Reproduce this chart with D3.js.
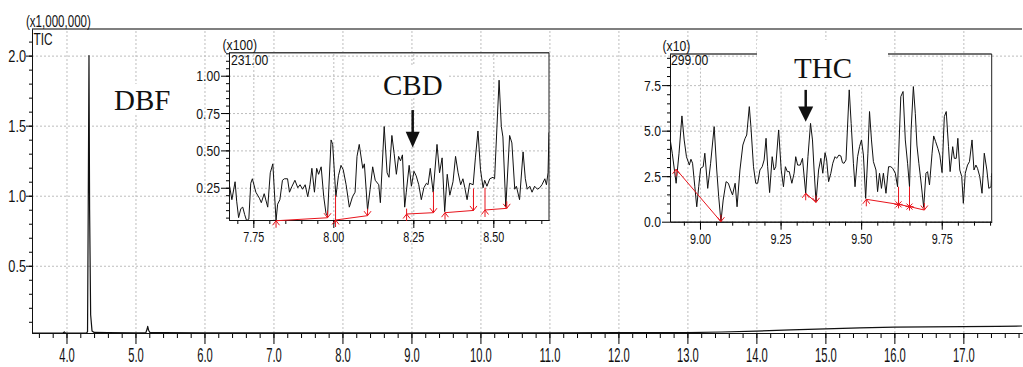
<!DOCTYPE html>
<html><head><meta charset="utf-8">
<script src="https://cdn.jsdelivr.net/npm/d3@7"></script>
<style>
html,body{margin:0;padding:0;background:#fff;}
svg{display:block;}
</style></head><body>
<svg id="chart" width="1023" height="367"></svg>
<script>
// ---------------- DATA ----------------
// Main TIC chromatogram (time in min, intensity x1,000,000)
const ticTimes  = [3.50,3.60,3.80,3.95,3.968,3.985,4.10,4.29,4.305,4.315,4.326,4.335,4.35,4.37,4.40,4.60,5.00,5.15,5.17,5.177,5.19,5.21,5.40,6.0,7.0,8.0,9.0,10.0,11.0,12.0,12.5,13.0,13.5,14.0,14.5,15.0,15.5,16.0,16.5,17.0,17.5,17.85];
const ticValues = [0.020,0.019,0.020,0.020,0.028,0.020,0.019,0.019,0.030,0.90,2.00,0.90,0.15,0.035,0.024,0.022,0.021,0.022,0.050,0.068,0.040,0.023,0.022,0.021,0.021,0.021,0.021,0.021,0.021,0.022,0.022,0.023,0.027,0.033,0.042,0.050,0.057,0.062,0.064,0.066,0.068,0.070];
const mainXTicks = [4,5,6,7,8,9,10,11,12,13,14,15,16,17];
const mainYTicks = [0.5,1.0,1.5,2.0];

// CBD inset, m/z 231.00 (x100)
const cbdTimes = [
 7.675,7.683,7.693,7.698,7.704,7.711,7.717,7.723,7.729,7.736,
 7.742,7.747,7.758,7.769,7.775,7.784,7.795,7.803,7.811,7.821,
 7.826,7.833,7.841,7.847,7.857,7.863,7.871,7.880,7.889,7.896,
 7.904,7.912,7.920,7.927,7.933,7.941,7.948,7.954,7.962,7.970,
 7.977,7.982,7.993,7.998,8.008,8.016,8.024,8.031,8.040,8.050,
 8.060,8.068,8.074,8.081,8.092,8.097,8.107,8.115,8.123,8.131,
 8.142,8.147,8.159,8.168,8.174,8.183,8.190,8.197,8.204,8.210,
 8.216,8.223,8.228,8.237,8.244,8.252,8.259,8.267,8.275,8.283,
 8.291,8.296,8.303,8.312,8.324,8.332,8.340,8.348,8.356,8.364,
 8.374,8.382,8.390,8.398,8.405,8.411,8.418,8.426,8.437,8.444,
 8.452,8.460,8.468,8.473,8.480,8.489,8.499,8.504,8.518,8.525,
 8.530,8.539,8.551,8.558,8.567,8.572,8.582,8.593,8.600,8.606,
 8.614,8.621,8.629,8.638,8.645,8.652,8.661,8.666,8.671,8.674];
const cbdValues = [
 0.27,0.17,0.29,0.16,0.05,0.11,0.12,0.07,0.03,0.04,
 0.28,0.31,0.22,0.18,0.15,0.21,0.12,0.35,0.41,0.03,
 0.14,0.17,0.30,0.31,0.31,0.22,0.26,0.30,0.25,0.27,
 0.24,0.27,0.19,0.27,0.38,0.22,0.38,0.34,0.39,0.19,
 0.08,0.06,0.57,0.54,0.19,0.33,0.40,0.37,0.27,0.12,
 0.19,0.22,0.46,0.54,0.38,0.41,0.10,0.24,0.39,0.30,
 0.27,0.15,0.66,0.35,0.32,0.60,0.48,0.34,0.46,0.43,
 0.47,0.12,0.22,0.40,0.26,0.36,0.33,0.27,0.17,0.25,
 0.28,0.27,0.38,0.22,0.54,0.35,0.45,0.09,0.34,0.20,
 0.29,0.46,0.35,0.27,0.31,0.25,0.17,0.28,0.27,0.45,
 0.63,0.37,0.25,0.30,0.26,0.31,0.32,0.31,0.97,0.66,
 0.59,0.12,0.60,0.55,0.24,0.26,0.17,0.49,0.31,0.24,
 0.26,0.22,0.26,0.24,0.25,0.27,0.31,0.27,0.35,0.62];
const cbdXTicks = [7.75,8.00,8.25,8.50];
const cbdYTicks = [0.25,0.50,0.75,1.00];
const cbdBaselines = [
 [[7.821,0.029],[7.982,0.049]],
 [[8.007,0.034],[8.107,0.063]],
 [[8.229,0.074],[8.313,0.083]],
 [[8.349,0.083],[8.438,0.098]],
 [[8.474,0.101],[8.542,0.112]]];
const cbdDrops = [[8.007,0.034,0.20],[8.229,0.074,0.11],[8.313,0.083,0.225],[8.438,0.098,0.245],[8.474,0.101,0.25]];
const cbdArrow = {t:8.248, top:0.77, head:0.625, tip:0.52};

// THC inset, m/z 299.00 (x10)
const thcTimes = [
 8.907,8.914,8.926,8.935,8.944,8.951,8.958,8.967,8.972,8.977,
 8.984,8.990,8.996,9.002,9.010,9.015,9.024,9.033,9.044,9.052,
 9.058,9.065,9.072,9.081,9.088,9.095,9.101,9.109,9.115,9.124,
 9.133,9.140,9.145,9.153,9.158,9.166,9.173,9.179,9.186,9.193,
 9.199,9.205,9.210,9.216,9.224,9.230,9.235,9.244,9.252,9.259,
 9.265,9.271,9.277,9.285,9.292,9.297,9.303,9.311,9.318,9.328,
 9.335,9.343,9.349,9.354,9.360,9.368,9.375,9.381,9.388,9.393,
 9.399,9.406,9.412,9.419,9.424,9.431,9.437,9.442,9.447,9.453,
 9.463,9.469,9.476,9.481,9.489,9.495,9.501,9.507,9.514,9.521,
 9.526,9.532,9.538,9.546,9.551,9.557,9.563,9.569,9.577,9.585,
 9.592,9.598,9.606,9.613,9.618,9.623,9.630,9.637,9.644,9.650,
 9.655,9.662,9.668,9.673,9.679,9.685,9.694,9.701,9.706,9.712,
 9.720,9.725,9.731,9.738,9.744,9.751,9.758,9.764,9.771,9.776,
 9.784,9.789,9.795,9.800,9.806,9.812,9.817,9.823,9.830,9.836,
 9.844,9.850,9.856,9.861,9.868,9.875,9.882,9.890,9.896,9.903,
 9.905];
const thcValues = [
 4.58,3.76,2.11,3.76,5.81,4.49,3.57,3.11,3.43,3.21,
 1.92,0.82,1.92,2.93,3.02,3.76,1.83,3.21,5.22,2.84,
 1.38,0.00,1.19,2.20,2.11,1.74,1.47,2.11,0.82,2.84,
 4.21,4.58,4.76,6.32,5.22,3.02,2.11,2.11,2.84,3.02,
 3.39,4.58,3.02,1.60,3.57,2.84,3.02,5.04,2.84,1.92,
 3.02,2.75,2.75,2.11,2.66,3.57,3.11,3.11,3.48,1.56,
 3.57,5.40,4.49,2.84,1.10,2.84,3.48,2.66,3.79,3.39,
 2.20,2.66,3.21,3.57,3.48,3.66,3.61,3.24,3.21,3.39,
 7.24,5.40,3.21,1.92,3.57,4.12,4.49,3.66,1.28,3.76,
 6.05,4.49,3.30,2.84,1.65,2.66,1.83,2.66,1.56,3.02,
 3.02,2.93,2.66,1.92,4.49,6.87,7.15,4.49,3.21,1.92,
 5.04,7.42,5.95,4.21,3.21,2.29,0.79,2.66,2.75,2.02,
 3.76,4.71,4.40,4.03,3.66,2.70,5.77,6.05,4.12,2.75,
 4.12,3.48,3.48,4.58,2.84,2.48,1.01,2.66,3.11,3.30,
 4.49,2.84,3.11,2.93,2.48,1.56,3.76,2.84,1.83,1.92,
 2.66];
const thcXTicks = [9.00,9.25,9.50,9.75];
const thcYTicks = [0.0,2.5,5.0,7.5];
const thcBaselines = [
 [[8.926,2.88],[9.065,0.0]],
 [[9.328,1.56],[9.360,1.06]],
 [[9.516,1.23],[9.616,0.95],[9.650,0.83],[9.696,0.64]]];
const thcStars = [[9.616,0.95],[9.650,0.83]];
const thcDrops = [[9.616,0.95,1.92],[9.650,0.83,1.92]];
const thcArrow = {t:9.328, top:7.24, head:6.32, tip:5.49};

// ---------------- DRAW ----------------
const SANS = '"Liberation Sans", Arial, sans-serif';
const SERIF = '"Liberation Serif", "Times New Roman", serif';
const svg = d3.select("#chart");
const RED = "#e8141c";

const mx = d3.scaleLinear().domain([3.5,17.85]).range([32,1022]);
const my = d3.scaleLinear().domain([0.02,2.19]).range([333,29]);
const cx = d3.scaleLinear().domain([7.674,8.674]).range([229,549]);
const cy = d3.scaleLinear().domain([0.034,1.154]).range([220,52.7]);
const tx = d3.scaleLinear().domain([8.907,9.905]).range([670,991.7]);
const ty = d3.scaleLinear().domain([0,9.21]).range([221.7,54]);

function gridLines(x, y, xt, yt) {
  const [x0,x1] = x.range(), [y0,y1] = y.range();
  const g = svg.append("g");
  g.append("g").attr("transform",`translate(0,${y0})`)
    .call(d3.axisBottom(x).tickValues(xt).tickSize(-(y0-y1)).tickFormat("").tickSizeOuter(0))
    .call(s=>{s.select(".domain").remove();s.selectAll("line").attr("stroke","#bdbdbd").attr("stroke-dasharray","2,2");});
  g.append("g").attr("transform",`translate(${x0},0)`)
    .call(d3.axisLeft(y).tickValues(yt).tickSize(-(x1-x0)).tickFormat("").tickSizeOuter(0))
    .call(s=>{s.select(".domain").remove();s.selectAll("line").attr("stroke","#bdbdbd").attr("stroke-dasharray","2,2");});
}
function styleText(g, o) {
  g.attr("font-family", null).attr("font-size", null);
  g.selectAll("text")
    .attr("font-family", SANS).attr("font-size", o.size).attr("fill", "#111")
    .attr("x", o.x / o.sx).attr("y", o.y).attr("dy", o.dy)
    .attr("text-anchor", o.anchor)
    .attr("transform", `scale(${o.sx},1)`);
}
function axes(x, y, c) {
  const [x0,x1] = x.range(), [y0,y1] = y.range();
  const gb = svg.append("g").attr("transform",`translate(0,${y0})`);
  gb.append("g").call(d3.axisBottom(x).tickValues(c.xMinor).tickSize(c.minorLen).tickFormat("").tickSizeOuter(0));
  const gbm = gb.append("g").call(d3.axisBottom(x).tickValues(c.xt).tickSize(c.majorLen).tickFormat(d3.format(c.xf)).tickSizeOuter(0));
  styleText(gbm, {size:c.xSize, sx:c.xsx, x:0, y:c.xOff, dy:0, anchor:"middle"});
  const gl = svg.append("g").attr("transform",`translate(${x0},0)`);
  gl.append("g").call(d3.axisLeft(y).tickValues(c.yMinor).tickSize(c.yMinorLen).tickFormat("").tickSizeOuter(0));
  const glm = gl.append("g").call(d3.axisLeft(y).tickValues(c.yt).tickSize(c.yMajorLen).tickFormat(d3.format(c.yf)).tickSizeOuter(0));
  styleText(glm, {size:c.ySize, sx:c.ysx, x:-c.yOff, y:0, dy:"0.36em", anchor:"end"});
  svg.selectAll(".domain").attr("stroke","#111");
}

// grids
gridLines(mx, my, mainXTicks, mainYTicks);
gridLines(cx, cy, cbdXTicks, cbdYTicks);
gridLines(tx, ty, thcXTicks, thcYTicks);

// main frame top line
svg.append("line").attr("x1",mx.range()[0]).attr("x2",mx.range()[1]).attr("y1",my.range()[1]).attr("y2",my.range()[1])
  .attr("stroke","#555").attr("stroke-width",1.5);

// main axes
axes(mx, my, {
  xMinor: d3.range(3.6, 17.81, 0.2), xt: mainXTicks, minorLen:5, majorLen:11, xf:".1f",
  xSize:20, xsx:0.56, xOff:29,
  yMinor: d3.range(0.1, 2.15, 0.1), yt: mainYTicks, yMinorLen:3, yMajorLen:6, yf:".1f",
  ySize:17, ysx:0.75, yOff:6
});

// inset frames & axes
function insetFrame(x, y) {
  const [x0,x1] = x.range(), [y0,y1] = y.range();
  svg.append("line").attr("x1",x0).attr("x2",x1).attr("y1",y1).attr("y2",y1).attr("stroke","#444").attr("stroke-width",1.5);
  svg.append("line").attr("x1",x1).attr("x2",x1).attr("y1",y1).attr("y2",y0).attr("stroke","#222");
}
insetFrame(cx, cy);
axes(cx, cy, {
  xMinor: d3.range(7.70, 8.66, 0.05), xt: cbdXTicks, minorLen:4, majorLen:8, xf:".2f",
  xSize:15, xsx:0.72, xOff:22,
  yMinor: d3.range(0.05, 1.151, 0.05), yt: cbdYTicks, yMinorLen:3, yMajorLen:8, yf:".2f",
  ySize:14, ysx:0.87, yOff:9
});
insetFrame(tx, ty);
axes(tx, ty, {
  xMinor: d3.range(8.95, 9.901, 0.05), xt: thcXTicks, minorLen:4, majorLen:8, xf:".2f",
  xSize:15, xsx:0.72, xOff:22,
  yMinor: d3.range(0.5, 9.01, 0.5), yt: thcYTicks, yMinorLen:3, yMajorLen:8, yf:".1f",
  ySize:14, ysx:0.87, yOff:9
});

// white label boxes
[[111,84,63,30],[380,66,68,32],[757,40,131,45]].forEach(b=>{
  svg.append("rect").attr("x",b[0]).attr("y",b[1]).attr("width",b[2]).attr("height",b[3]).attr("fill","#fff");
});

// traces
const defs = svg.append("defs");
function clip(id, x, y) {
  const [x0,x1] = x.range(), [y0,y1] = y.range();
  defs.append("clipPath").attr("id",id).append("rect").attr("x",x0).attr("y",y1).attr("width",x1-x0).attr("height",y0-y1+1);
}
clip("cm", mx, my); clip("cc", cx, cy); clip("ct", tx, ty);
function trace(times, vals, x, y, clipId, w) {
  svg.append("path").datum(d3.zip(times, vals))
    .attr("clip-path",`url(#${clipId})`)
    .attr("fill","none").attr("stroke","#111").attr("stroke-width",w).attr("stroke-linejoin","round")
    .attr("d", d3.line().x(d=>x(d[0])).y(d=>y(d[1])));
}
trace(ticTimes, ticValues, mx, my, "cm", 1.2);
trace(cbdTimes, cbdValues, cx, cy, "cc", 1);
trace(thcTimes, thcValues, tx, ty, "ct", 1);

// red integration marks
function upArrow(px, py) {
  svg.append("path").attr("d",`M${px-3.5},${py+4.5}L${px},${py}L${px+3.5},${py+4.5}M${px},${py}L${px},${py+7}`)
    .attr("fill","none").attr("stroke",RED).attr("stroke-width",1);
}
function downArrow(px, py) {
  svg.append("path").attr("d",`M${px-3.5},${py-4.5}L${px},${py}L${px+3.5},${py-4.5}M${px},${py}L${px},${py-7}`)
    .attr("fill","none").attr("stroke",RED).attr("stroke-width",1);
}
function star(px, py) {
  svg.append("path").attr("d",`M${px-4},${py}L${px+4},${py}M${px-3},${py-3}L${px+3},${py+3}M${px-3},${py+3}L${px+3},${py-3}M${px},${py-4}L${px},${py+4}`)
    .attr("fill","none").attr("stroke",RED).attr("stroke-width",1);
}
function marks(bases, drops, stars, x, y) {
  drops.forEach(d=>svg.append("line").attr("x1",x(d[0])).attr("x2",x(d[0])).attr("y1",y(d[1])).attr("y2",y(d[2]))
    .attr("stroke",RED).attr("stroke-width",1));
  bases.forEach(b=>{
    svg.append("path").datum(b).attr("fill","none").attr("stroke",RED).attr("stroke-width",1)
      .attr("d", d3.line().x(d=>x(d[0])).y(d=>y(d[1])));
    upArrow(x(b[0][0]), y(b[0][1]));
    downArrow(x(b[b.length-1][0]), y(b[b.length-1][1]));
  });
  stars.forEach(s=>star(x(s[0]), y(s[1])));
}
marks(cbdBaselines, cbdDrops, [], cx, cy);
marks(thcBaselines, thcDrops, thcStars, tx, ty);

// black arrows
function bigArrow(a, x, y, hw) {
  const px = x(a.t);
  svg.append("line").attr("x1",px).attr("x2",px).attr("y1",y(a.top)).attr("y2",y(a.head)+1).attr("stroke","#111").attr("stroke-width",2.5);
  svg.append("path").attr("d",`M${px-hw},${y(a.head)}L${px+hw},${y(a.head)}L${px},${y(a.tip)}Z`).attr("fill","#111");
}
bigArrow(cbdArrow, cx, cy, 7);
bigArrow(thcArrow, tx, ty, 7.5);

// serif labels
[["DBF",114,110],["CBD",383,95],["THC",794,78]].forEach(l=>{
  svg.append("text").attr("x",l[1]).attr("y",l[2]).attr("font-family",SERIF).attr("font-size",29).attr("fill","#111").text(l[0]);
});

// header texts
function label(txt, x, y, size, sx) {
  svg.append("text").attr("transform",`translate(${x},${y}) scale(${sx},1)`)
    .attr("font-family",SANS).attr("font-size",size).attr("fill","#111").text(txt);
}
label("(x1,000,000)", 26, 26.5, 16.5, 0.7);
label("TIC", 33.5, 45, 17, 0.7);
label("(x100)", 222.5, 50, 14, 0.87);
label("231.00", 231, 65, 14, 0.87);
label("(x10)", 662.5, 50.5, 14, 0.87);
label("299.00", 671, 65, 14, 0.87);
</script>
</body></html>
